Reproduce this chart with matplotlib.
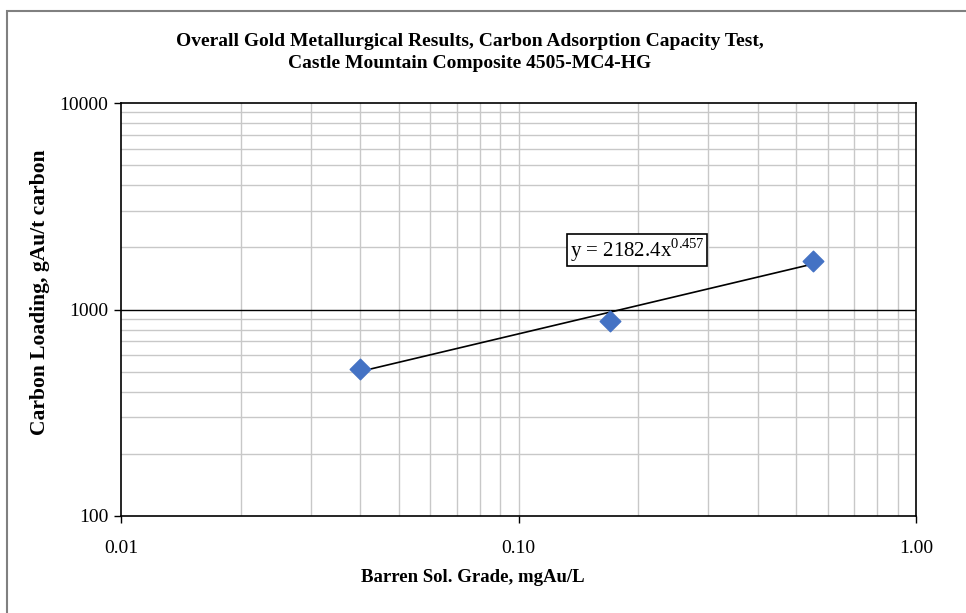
import numpy as np
import matplotlib.pyplot as plt
from matplotlib.patches import Rectangle
from matplotlib.ticker import FixedLocator, NullFormatter

plt.rcParams["font.family"] = ["Liberation Serif", "DejaVu Serif"]
plt.rcParams["mathtext.fontset"] = "custom"
plt.rcParams["mathtext.rm"] = "Liberation Serif"

# data
barren_grade = [0.04, 0.17, 0.55]      # mgAu/L
carbon_loading = [515, 880, 1720]      # gAu/t carbon
fit_coef = 2182.4
fit_exp = 0.457
x_ticks = [0.01, 0.1, 1.0]
x_tick_labels = ["0.01", "0.10", "1.00"]
y_ticks = [100, 1000, 10000]
y_tick_labels = ["100", "1000", "10000"]

W, H = 966, 613
fig = plt.figure(figsize=(W / 100, H / 100), dpi=100)
ax = fig.add_axes([121 / W, 1 - 516 / H, (916 - 121) / W, (516 - 103) / H])

# outer chart-area border
fig.patches.append(Rectangle((7 / W, -0.05), 1.1, 1 - 11 / H + 0.05,
                             transform=fig.transFigure, fill=False,
                             ec="#808080", lw=1.5, zorder=-5))

ax.set_xscale("log")
ax.set_yscale("log")
ax.set_xlim(0.01, 1.0)
ax.set_ylim(100, 10000)

# gridlines
minor_x = [m * d for d in (0.01, 0.1) for m in range(2, 10)]
minor_y = [m * d for d in (100, 1000) for m in range(2, 10)]
for v in minor_x + [0.1]:
    ax.axvline(v, color="#c8c8c8", lw=1.0, zorder=0)
for v in minor_y:
    ax.axhline(v, color="#c8c8c8", lw=1.0, zorder=0)
ax.axhline(1000, color="black", lw=1.0, zorder=1)

ax.xaxis.set_major_locator(FixedLocator(x_ticks))
ax.xaxis.set_minor_locator(FixedLocator([]))
ax.yaxis.set_major_locator(FixedLocator(y_ticks))
ax.yaxis.set_minor_locator(FixedLocator([]))
ax.set_xticklabels(x_tick_labels)
ax.set_yticklabels(y_tick_labels)
ax.xaxis.set_minor_formatter(NullFormatter())
ax.yaxis.set_minor_formatter(NullFormatter())
ax.tick_params(axis="both", which="major", direction="out", length=5,
               width=1.0, labelsize=14, color="black", pad=4)
ax.tick_params(axis="x", pad=12)

for s in ax.spines.values():
    s.set_color("black")
    s.set_linewidth(1.2)

# trendline
xf = np.logspace(np.log10(min(barren_grade)), np.log10(max(barren_grade)), 50)
ax.plot(xf, fit_coef * xf ** fit_exp, color="black", lw=1.2, zorder=3)

ax.scatter(barren_grade, carbon_loading, marker="D", s=110, color="#4472c4",
           edgecolors="#4472c4", zorder=4)

ax.text(0.649, 0.644, r"y = 2182.4x$^{0.457}$", transform=ax.transAxes,
        fontsize=15, ha="center", va="center", zorder=6,
        bbox=dict(boxstyle="square,pad=0.12", fc="white", ec="black", lw=1.2))

fig.text(473 / W, 1 - 578 / H, "Barren Sol. Grade, mgAu/L", fontsize=13.5,
         fontweight="bold", ha="center", va="center")
fig.text(40 / W, 1 - 292 / H, "Carbon Loading, gAu/t carbon", fontsize=15.5,
         fontweight="bold", ha="center", va="center", rotation=90)

fig.text(470 / W, 1 - 42 / H,
         "Overall Gold Metallurgical Results, Carbon Adsorption Capacity Test,",
         fontsize=14, fontweight="bold", ha="center", va="center")
fig.text(470 / W, 1 - 63 / H, "Castle Mountain Composite 4505-MC4-HG",
         fontsize=14, fontweight="bold", ha="center", va="center")

fig.savefig("out.png", dpi=100)
